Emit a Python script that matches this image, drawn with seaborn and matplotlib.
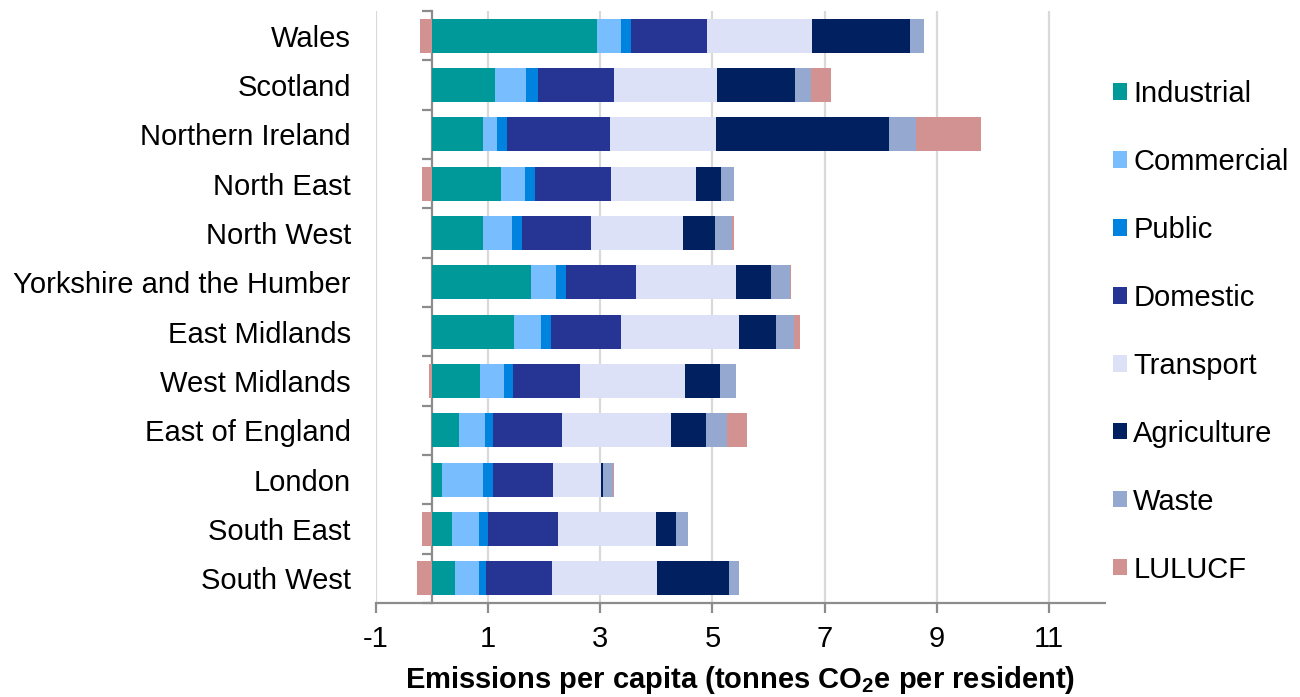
import matplotlib
matplotlib.use("Agg")
import matplotlib.pyplot as plt
from matplotlib.patches import Patch
import numpy as np
import pandas as pd
import seaborn as sns

regions = ["Wales", "Scotland", "Northern Ireland", "North East", "North West",
           "Yorkshire and the Humber", "East Midlands", "West Midlands",
           "East of England", "London", "South East", "South West"]

industrial  = [2.94, 1.12, 0.91, 1.23, 0.91, 1.76, 1.46, 0.85, 0.48, 0.18, 0.36, 0.41]
commercial  = [0.43, 0.55, 0.25, 0.43, 0.51, 0.45, 0.48, 0.43, 0.46, 0.73, 0.48, 0.43]
public      = [0.17, 0.22, 0.17, 0.18, 0.18, 0.18, 0.18, 0.17, 0.15, 0.18, 0.15, 0.13]
domestic    = [1.36, 1.35, 1.85, 1.35, 1.23, 1.25, 1.25, 1.19, 1.23, 1.07, 1.26, 1.17]
transport   = [1.87, 1.84, 1.89, 1.52, 1.64, 1.78, 2.10, 1.87, 1.94, 0.86, 1.75, 1.87]
agriculture = [1.76, 1.40, 3.08, 0.45, 0.57, 0.62, 0.67, 0.62, 0.62, 0.02, 0.35, 1.28]
waste       = [0.24, 0.27, 0.48, 0.23, 0.30, 0.34, 0.32, 0.29, 0.38, 0.18, 0.22, 0.18]
lulucf      = [-0.22, 0.36, 1.16, -0.18, 0.04, 0.02, 0.11, -0.05, 0.36, 0.02, -0.18, -0.27]

sectors = ["Industrial", "Commercial", "Public", "Domestic",
           "Transport", "Agriculture", "Waste", "LULUCF"]
colors = ["#009999", "#78BEFF", "#0082DF", "#263494",
          "#DCE1F8", "#002060", "#95A9D0", "#D29292"]

df = pd.DataFrame({"Region": regions, "Industrial": industrial,
                   "Commercial": commercial, "Public": public,
                   "Domestic": domestic, "Transport": transport,
                   "Agriculture": agriculture, "Waste": waste,
                   "LULUCF": lulucf})

sns.set_theme(style="white")
plt.rcParams["font.family"] = ["Liberation Sans", "DejaVu Sans"]
plt.rcParams["text.color"] = "black"
plt.rcParams["mathtext.fontset"] = "custom"
plt.rcParams["mathtext.rm"] = "Liberation Sans"
plt.rcParams["mathtext.bf"] = "Liberation Sans:bold"
plt.rcParams["mathtext.default"] = "bf"

fig = plt.figure(figsize=(13, 6.97), dpi=100)
ax = fig.add_axes([0.2892, 0.1349, 0.5608, 0.8493])

# positive parts stacked from zero; LULUCF sinks can go below zero
pos = df[sectors].clip(lower=0)
cum = pos.cumsum(axis=1)
neg = df["LULUCF"].clip(upper=0)

bar_w = 0.69
for sector, col in reversed(list(zip(sectors, colors))):
    sns.barplot(x=cum[sector], y=df["Region"], orient="h", color=col,
                saturation=1, width=bar_w, ax=ax, linewidth=0, zorder=3)
sns.barplot(x=neg, y=df["Region"], orient="h", color=colors[-1],
            saturation=1, width=bar_w, ax=ax, linewidth=0, zorder=3)

ax.set_xlim(-1, 12)
ax.set_ylim(len(regions) - 0.5, -0.5)
ax.set_xticks(np.arange(-1, 12, 2))
ax.set_xticklabels([str(v) for v in range(-1, 12, 2)])
ax.grid(axis="x", color="#D9D9D9", linewidth=1.6, zorder=0)
ax.grid(axis="y", visible=False)
ax.set_axisbelow(True)

for side in ["top", "right", "left"]:
    ax.spines[side].set_visible(False)
ax.spines["bottom"].set_color("#8C8C8C")
ax.spines["bottom"].set_linewidth(1.6)
ax.tick_params(axis="x", bottom=True, length=7, width=1.6, color="#8C8C8C",
               labelsize=21, pad=9, labelcolor="#000000")
ax.tick_params(axis="y", left=False, labelsize=21, pad=12, labelcolor="#000000")
ax.set_ylabel("")
ax.set_xlabel("Emissions per capita (tonnes CO$_2$e per resident)",
              fontsize=21, fontweight="bold", labelpad=8, color="#000000")

# category axis drawn at x = 0 with separator ticks between regions
zero_loc = (0 - (-1)) / (12 - (-1))
cat_axis = ax.secondary_yaxis(location=zero_loc)
cat_axis.set_yticks(np.arange(-0.5, len(regions), 1.0))
cat_axis.set_yticklabels([])
cat_axis.tick_params(axis="y", left=True, length=7, width=1.6, color="#8C8C8C")
cat_axis.spines["left"].set_color("#8C8C8C")
cat_axis.spines["left"].set_linewidth(1.6)
for side in ["top", "right", "bottom"]:
    cat_axis.spines[side].set_visible(False)

handles = [Patch(facecolor=c, edgecolor="none", label=s)
           for s, c in zip(sectors, colors)]
fig.legend(handles=handles, loc="center left", bbox_to_anchor=(0.847, 0.524),
           frameon=False, fontsize=21, handlelength=0.48, handleheight=0.48,
           handletextpad=0.22, labelspacing=1.37, borderaxespad=0,
           labelcolor="black")

fig.savefig("out.png", dpi=100)
